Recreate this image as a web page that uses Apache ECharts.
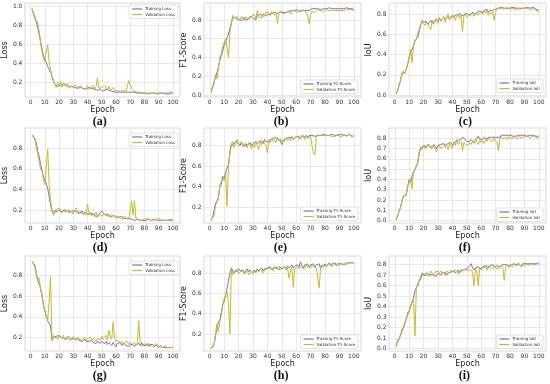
<!DOCTYPE html>
<html><head><meta charset="utf-8">
<script src="https://cdn.jsdelivr.net/npm/echarts@6/dist/echarts.min.js"></script>
<style>html,body{margin:0;padding:0;background:#fff}#c{width:550px;height:384px}</style>
</head><body><div id="c"></div>
<script>
const epochs = Array.from({length:100},(_, i)=>i+1);
const xTicks = [0,10,20,30,40,50,60,70,80,90,100];
const ticksLossA = [0.2,0.4,0.6,0.8,1.0];
const ticksF1B = [0.0,0.2,0.4,0.6,0.8];
const ticksIoUC = [0.0,0.2,0.4,0.6,0.8];
const ticksLossD = [0.2,0.4,0.6,0.8];
const ticksF1E = [0.2,0.4,0.6,0.8];
const ticksIoUF = [0.0,0.1,0.2,0.3,0.4,0.5,0.6,0.7,0.8];
const ticksLossG = [0.2,0.4,0.6,0.8];
const ticksF1H = [0.2,0.4,0.6,0.8];
const ticksIoUI = [0.0,0.1,0.2,0.3,0.4,0.5,0.6,0.7,0.8];

const trainLossA = [0.97,0.93,0.89,0.84,0.78,0.71,0.63,0.56,0.49,0.44, 0.41,0.37,0.35,0.31,0.26,0.22,0.19,0.17,0.16,0.18, 0.17,0.16,0.19,0.17,0.18,0.16,0.15,0.17,0.16,0.18, 0.15,0.17,0.14,0.16,0.15,0.13,0.14,0.15,0.13,0.14, 0.15,0.13,0.14,0.12,0.13,0.14,0.12,0.11,0.13,0.12, 0.11,0.12,0.13,0.11,0.12,0.10,0.11,0.12,0.10,0.11, 0.10,0.11,0.10,0.12,0.10,0.11,0.10,0.09,0.10,0.10, 0.10,0.09,0.10,0.09,0.09,0.10,0.09,0.09,0.09,0.08, 0.09,0.09,0.08,0.09,0.09,0.08,0.09,0.09,0.08,0.09, 0.09,0.08,0.09,0.09,0.08,0.09,0.08,0.09,0.09,0.09];
const valLossA = [0.99,0.91,0.87,0.85,0.83,0.74,0.62,0.53,0.46,0.42, 0.52,0.60,0.42,0.34,0.27,0.23,0.18,0.15,0.20,0.16, 0.21,0.15,0.18,0.20,0.16,0.19,0.14,0.17,0.19,0.15, 0.18,0.20,0.15,0.13,0.17,0.14,0.16,0.13,0.15,0.17, 0.13,0.15,0.14,0.17,0.13,0.16,0.25,0.14,0.12,0.15, 0.13,0.17,0.15,0.13,0.16,0.12,0.14,0.15,0.11,0.13, 0.12,0.14,0.11,0.13,0.12,0.14,0.11,0.13,0.22,0.24, 0.14,0.12,0.11,0.12,0.10,0.11,0.10,0.10,0.09,0.10, 0.09,0.10,0.09,0.08,0.09,0.10,0.09,0.10,0.09,0.10, 0.09,0.10,0.09,0.10,0.09,0.09,0.10,0.09,0.10,0.10];

const trainF1B = [0.05,0.09,0.14,0.19,0.24,0.30,0.37,0.42,0.47,0.53, 0.57,0.61,0.65,0.71,0.77,0.83,0.84,0.82,0.83,0.80, 0.82,0.80,0.81,0.83,0.80,0.82,0.81,0.84,0.83,0.82, 0.84,0.80,0.85,0.84,0.86,0.85,0.84,0.86,0.85,0.87, 0.86,0.85,0.87,0.86,0.88,0.86,0.87,0.86,0.88,0.89, 0.88,0.89,0.88,0.90,0.89,0.88,0.90,0.89,0.90,0.89, 0.91,0.90,0.89,0.91,0.90,0.91,0.90,0.91,0.90,0.91, 0.92,0.91,0.92,0.91,0.92,0.92,0.91,0.92,0.92,0.92, 0.92,0.92,0.93,0.92,0.92,0.93,0.92,0.93,0.92,0.93, 0.92,0.93,0.92,0.92,0.93,0.92,0.92,0.93,0.92,0.91];
const valF1B = [0.02,0.08,0.12,0.22,0.17,0.28,0.40,0.44,0.52,0.56, 0.60,0.50,0.40,0.66,0.76,0.85,0.83,0.81,0.84,0.86, 0.80,0.84,0.82,0.79,0.83,0.85,0.81,0.80,0.84,0.82, 0.86,0.81,0.90,0.83,0.85,0.82,0.87,0.84,0.88,0.86, 0.88,0.84,0.89,0.87,0.85,0.88,0.76,0.87,0.90,0.88, 0.86,0.85,0.88,0.87,0.90,0.86,0.89,0.87,0.91,0.88, 0.90,0.89,0.87,0.91,0.89,0.90,0.88,0.84,0.76,0.85, 0.89,0.90,0.88,0.90,0.91,0.89,0.90,0.91,0.89,0.90, 0.91,0.89,0.90,0.91,0.90,0.92,0.90,0.91,0.90,0.91, 0.90,0.91,0.90,0.91,0.91,0.90,0.91,0.90,0.91,0.90];

const trainIoUC = [0.01,0.05,0.10,0.14,0.22,0.23,0.22,0.25,0.31,0.37, 0.42,0.45,0.49,0.54,0.55,0.57,0.64,0.69,0.74,0.72, 0.71,0.73,0.70,0.72,0.74,0.71,0.73,0.72,0.75,0.73, 0.76,0.74,0.75,0.77,0.75,0.76,0.78,0.76,0.77,0.79, 0.77,0.78,0.80,0.78,0.81,0.79,0.80,0.79,0.81,0.80, 0.80,0.81,0.80,0.82,0.81,0.80,0.82,0.81,0.83,0.84, 0.82,0.84,0.83,0.85,0.82,0.84,0.83,0.84,0.83,0.85, 0.86,0.86,0.86,0.87,0.86,0.86,0.87,0.86,0.86,0.86, 0.86,0.87,0.86,0.86,0.87,0.86,0.86,0.86,0.87,0.86, 0.86,0.87,0.86,0.86,0.86,0.87,0.86,0.85,0.85,0.84];
const valIoUC = [0.01,0.04,0.09,0.15,0.20,0.24,0.21,0.26,0.30,0.38, 0.45,0.32,0.48,0.53,0.56,0.55,0.66,0.70,0.73,0.71, 0.69,0.72,0.70,0.68,0.65,0.74,0.70,0.72,0.76,0.71, 0.77,0.73,0.75,0.78,0.72,0.77,0.80,0.74,0.78,0.76, 0.79,0.74,0.78,0.80,0.76,0.79,0.63,0.78,0.80,0.77, 0.80,0.78,0.79,0.81,0.78,0.80,0.82,0.79,0.81,0.83, 0.80,0.83,0.81,0.84,0.79,0.82,0.80,0.83,0.74,0.82, 0.86,0.85,0.86,0.86,0.85,0.86,0.86,0.85,0.86,0.85, 0.85,0.86,0.86,0.84,0.86,0.86,0.85,0.86,0.86,0.85, 0.86,0.85,0.86,0.86,0.84,0.86,0.85,0.84,0.85,0.82];

const trainLossD = [0.93,0.91,0.89,0.85,0.77,0.72,0.65,0.58,0.53,0.49, 0.46,0.41,0.33,0.25,0.19,0.17,0.20,0.18,0.19,0.20, 0.19,0.18,0.20,0.19,0.18,0.20,0.19,0.18,0.17,0.19, 0.18,0.19,0.17,0.18,0.17,0.19,0.16,0.18,0.17,0.16, 0.17,0.16,0.15,0.17,0.14,0.15,0.14,0.16,0.15,0.19, 0.17,0.16,0.15,0.14,0.15,0.14,0.13,0.15,0.14,0.13, 0.14,0.13,0.12,0.14,0.12,0.13,0.12,0.11,0.12,0.12, 0.11,0.11,0.10,0.10,0.11,0.10,0.10,0.10,0.10,0.10, 0.10,0.10,0.11,0.10,0.10,0.10,0.11,0.10,0.10,0.10, 0.10,0.10,0.10,0.10,0.10,0.11,0.10,0.10,0.10,0.10];
const valLossD = [0.92,0.91,0.90,0.80,0.74,0.73,0.60,0.58,0.50,0.45, 0.62,0.79,0.45,0.30,0.20,0.15,0.17,0.16,0.22,0.23, 0.21,0.17,0.19,0.21,0.18,0.20,0.17,0.20,0.18,0.16, 0.20,0.22,0.23,0.17,0.19,0.18,0.16,0.17,0.15,0.26, 0.16,0.18,0.14,0.17,0.15,0.18,0.13,0.14,0.16,0.14, 0.15,0.16,0.14,0.17,0.13,0.16,0.14,0.13,0.15,0.12, 0.14,0.15,0.12,0.13,0.11,0.14,0.12,0.13,0.11,0.12, 0.29,0.15,0.29,0.12,0.11,0.10,0.11,0.10,0.10,0.11, 0.10,0.12,0.11,0.10,0.11,0.10,0.10,0.11,0.10,0.12, 0.11,0.10,0.11,0.10,0.11,0.10,0.10,0.11,0.10,0.11];

const trainF1E = [0.08,0.10,0.11,0.24,0.26,0.30,0.40,0.42,0.50,0.48, 0.54,0.58,0.62,0.74,0.82,0.80,0.79,0.84,0.85,0.82, 0.80,0.83,0.81,0.79,0.82,0.80,0.81,0.83,0.80,0.82, 0.81,0.84,0.82,0.83,0.85,0.84,0.82,0.86,0.84,0.85, 0.84,0.86,0.85,0.87,0.86,0.88,0.86,0.87,0.85,0.81, 0.85,0.86,0.87,0.86,0.88,0.87,0.88,0.86,0.87,0.89, 0.88,0.89,0.87,0.90,0.88,0.89,0.90,0.88,0.90,0.89, 0.90,0.91,0.89,0.90,0.90,0.91,0.90,0.90,0.91,0.90, 0.90,0.91,0.90,0.90,0.91,0.90,0.90,0.91,0.90,0.90, 0.91,0.90,0.90,0.91,0.90,0.90,0.91,0.90,0.89,0.90];
const valF1E = [0.07,0.10,0.12,0.22,0.25,0.28,0.42,0.41,0.48,0.46, 0.52,0.21,0.60,0.72,0.80,0.84,0.78,0.82,0.86,0.80, 0.81,0.84,0.79,0.82,0.80,0.78,0.83,0.81,0.77,0.82, 0.78,0.83,0.80,0.76,0.84,0.81,0.85,0.83,0.80,0.73, 0.85,0.83,0.87,0.84,0.86,0.83,0.88,0.85,0.87,0.84, 0.86,0.84,0.88,0.85,0.87,0.85,0.89,0.86,0.88,0.87, 0.89,0.86,0.88,0.87,0.90,0.86,0.89,0.87,0.88,0.89, 0.80,0.73,0.71,0.88,0.90,0.89,0.90,0.89,0.90,0.89, 0.90,0.89,0.90,0.91,0.89,0.90,0.89,0.90,0.91,0.89, 0.90,0.89,0.91,0.90,0.89,0.90,0.91,0.89,0.90,0.89];

const trainIoUF = [0.01,0.05,0.09,0.13,0.19,0.24,0.23,0.25,0.34,0.40, 0.37,0.44,0.45,0.50,0.53,0.57,0.67,0.70,0.72,0.71, 0.73,0.71,0.74,0.72,0.73,0.71,0.74,0.72,0.70,0.73, 0.72,0.74,0.73,0.75,0.73,0.72,0.75,0.74,0.76,0.73, 0.75,0.77,0.76,0.78,0.77,0.79,0.81,0.82,0.79,0.77, 0.78,0.77,0.79,0.78,0.76,0.78,0.80,0.82,0.79,0.80, 0.79,0.81,0.80,0.79,0.81,0.80,0.81,0.80,0.81,0.82, 0.81,0.82,0.81,0.83,0.82,0.83,0.82,0.83,0.82,0.83, 0.83,0.82,0.83,0.82,0.83,0.83,0.82,0.83,0.82,0.83, 0.83,0.82,0.83,0.83,0.82,0.83,0.83,0.82,0.83,0.82];
const valIoUF = [0.01,0.04,0.10,0.12,0.20,0.23,0.24,0.26,0.33,0.38, 0.40,0.31,0.46,0.49,0.54,0.56,0.64,0.72,0.69,0.73, 0.70,0.72,0.71,0.74,0.70,0.73,0.72,0.70,0.67,0.71, 0.73,0.70,0.72,0.74,0.71,0.73,0.69,0.75,0.72,0.70, 0.76,0.73,0.78,0.74,0.75,0.77,0.68,0.76,0.74,0.75, 0.73,0.76,0.74,0.77,0.75,0.79,0.76,0.74,0.78,0.76, 0.78,0.75,0.79,0.77,0.80,0.78,0.79,0.77,0.80,0.79, 0.76,0.68,0.80,0.82,0.79,0.80,0.81,0.79,0.82,0.80, 0.81,0.80,0.82,0.81,0.79,0.82,0.81,0.80,0.82,0.81, 0.82,0.81,0.82,0.80,0.82,0.81,0.82,0.81,0.80,0.81];

const trainLossG = [0.94,0.92,0.90,0.83,0.75,0.72,0.68,0.60,0.51,0.46, 0.41,0.36,0.35,0.31,0.17,0.20,0.19,0.21,0.20,0.22, 0.20,0.21,0.19,0.20,0.18,0.20,0.19,0.17,0.19,0.18, 0.18,0.17,0.19,0.17,0.18,0.16,0.17,0.18,0.16,0.17, 0.16,0.15,0.17,0.15,0.16,0.14,0.16,0.15,0.14,0.16, 0.15,0.14,0.16,0.13,0.15,0.14,0.12,0.15,0.13,0.11, 0.14,0.13,0.15,0.12,0.13,0.14,0.12,0.13,0.11,0.13, 0.12,0.13,0.11,0.13,0.12,0.14,0.12,0.15,0.12,0.13, 0.12,0.14,0.11,0.13,0.12,0.13,0.11,0.12,0.13,0.10, 0.12,0.11,0.10,0.11,0.10,0.11,0.10,0.11,0.10,0.11];
const valLossG = [0.94,0.93,0.88,0.80,0.76,0.78,0.65,0.62,0.52,0.45, 0.41,0.37,0.55,0.79,0.18,0.22,0.19,0.21,0.18,0.22, 0.21,0.19,0.22,0.18,0.20,0.19,0.21,0.20,0.18,0.21, 0.19,0.17,0.20,0.18,0.19,0.17,0.18,0.20,0.17,0.19, 0.18,0.20,0.17,0.19,0.18,0.16,0.19,0.20,0.17,0.21, 0.18,0.20,0.22,0.17,0.27,0.20,0.18,0.35,0.19,0.16, 0.15,0.17,0.14,0.16,0.13,0.15,0.14,0.16,0.13,0.15, 0.14,0.13,0.15,0.12,0.14,0.36,0.14,0.13,0.12,0.14, 0.13,0.12,0.14,0.12,0.13,0.11,0.12,0.14,0.11,0.12, 0.11,0.12,0.10,0.11,0.12,0.10,0.11,0.10,0.11,0.10];

const trainF1H = [0.06,0.08,0.10,0.18,0.26,0.32,0.34,0.41,0.49,0.52, 0.58,0.65,0.66,0.80,0.85,0.82,0.80,0.83,0.81,0.84, 0.82,0.81,0.83,0.80,0.82,0.84,0.81,0.83,0.82,0.80, 0.83,0.81,0.84,0.82,0.83,0.85,0.82,0.84,0.83,0.85, 0.84,0.86,0.83,0.85,0.84,0.86,0.85,0.83,0.86,0.84, 0.85,0.86,0.84,0.87,0.85,0.86,0.88,0.85,0.87,0.86, 0.88,0.86,0.91,0.87,0.85,0.88,0.87,0.89,0.86,0.88, 0.87,0.89,0.86,0.88,0.87,0.89,0.84,0.88,0.86,0.89, 0.87,0.88,0.90,0.87,0.89,0.88,0.90,0.87,0.89,0.88, 0.89,0.90,0.88,0.89,0.90,0.89,0.90,0.89,0.90,0.90];
const valF1H = [0.05,0.07,0.10,0.20,0.30,0.22,0.32,0.38,0.48,0.55, 0.58,0.62,0.50,0.20,0.84,0.78,0.81,0.80,0.83,0.79, 0.81,0.80,0.82,0.79,0.81,0.83,0.78,0.80,0.82,0.79, 0.82,0.80,0.83,0.81,0.84,0.82,0.80,0.83,0.82,0.84, 0.83,0.85,0.84,0.82,0.86,0.84,0.85,0.87,0.83,0.85, 0.84,0.86,0.83,0.85,0.75,0.82,0.86,0.66,0.84,0.85, 0.86,0.84,0.87,0.85,0.86,0.84,0.88,0.86,0.87,0.85, 0.88,0.86,0.87,0.85,0.86,0.65,0.87,0.86,0.88,0.87, 0.86,0.88,0.87,0.89,0.86,0.88,0.87,0.89,0.88,0.87, 0.89,0.88,0.89,0.90,0.88,0.89,0.90,0.89,0.90,0.89];

const trainIoUI = [0.02,0.08,0.10,0.12,0.18,0.20,0.25,0.28,0.34,0.36, 0.41,0.45,0.48,0.55,0.58,0.60,0.65,0.68,0.72,0.70, 0.71,0.70,0.72,0.69,0.71,0.72,0.70,0.71,0.69,0.72, 0.71,0.70,0.72,0.71,0.73,0.70,0.72,0.71,0.73,0.72, 0.74,0.72,0.73,0.75,0.72,0.74,0.73,0.75,0.74,0.76, 0.77,0.79,0.81,0.77,0.75,0.77,0.76,0.78,0.77,0.76, 0.78,0.77,0.79,0.78,0.77,0.79,0.78,0.80,0.78,0.79, 0.79,0.80,0.78,0.79,0.80,0.79,0.80,0.81,0.79,0.80, 0.80,0.79,0.81,0.80,0.79,0.81,0.80,0.78,0.81,0.80, 0.81,0.80,0.81,0.82,0.81,0.80,0.81,0.82,0.81,0.81];
const valIoUI = [0.02,0.06,0.09,0.14,0.16,0.19,0.23,0.29,0.32,0.35, 0.40,0.44,0.47,0.12,0.58,0.62,0.64,0.66,0.69,0.72, 0.70,0.73,0.71,0.69,0.74,0.72,0.70,0.73,0.72,0.74, 0.72,0.74,0.71,0.73,0.70,0.74,0.73,0.72,0.75,0.73, 0.72,0.75,0.73,0.71,0.74,0.76,0.74,0.73,0.76,0.75, 0.74,0.76,0.75,0.73,0.60,0.76,0.74,0.60,0.77,0.75, 0.77,0.76,0.78,0.75,0.79,0.77,0.78,0.76,0.79,0.77, 0.78,0.76,0.79,0.78,0.77,0.65,0.78,0.80,0.77,0.79, 0.80,0.78,0.81,0.79,0.80,0.82,0.79,0.80,0.81,0.79, 0.80,0.81,0.79,0.81,0.82,0.80,0.81,0.80,0.82,0.80];

const names = {
  loss: ['Training Loss','Validation Loss'],
  f1: ['Training F1-Score','Validation F1-Score'],
  iou: ['Training IoU','Validation IoU']
};
const yNames = {loss:'Loss', f1:'F1-Score', iou:'IoU'};
const captions = ['(a)','(b)','(c)','(d)','(e)','(f)','(g)','(h)','(i)'];

const panels = [
  {kind:'loss', tr:trainLossA, va:valLossA, ticks:ticksLossA, yMin:0.049, yMax:1.039, legTop:5},
  {kind:'f1',   tr:trainF1B,   va:valF1B,   ticks:ticksF1B,   yMin:-0.021, yMax:0.981, legTop:80},
  {kind:'iou',  tr:trainIoUC,  va:valIoUC,  ticks:ticksIoUC,  yMin:-0.02, yMax:0.912, legTop:79},
  {kind:'loss', tr:trainLossD, va:valLossD, ticks:ticksLossD, yMin:0.074, yMax:0.997, legTop:133},
  {kind:'f1',   tr:trainF1E,   va:valF1E,   ticks:ticksF1E,   yMin:0.047, yMax:0.972, legTop:207},
  {kind:'iou',  tr:trainIoUF,  va:valIoUF,  ticks:ticksIoUF,  yMin:-0.022, yMax:0.900, legTop:208},
  {kind:'loss', tr:trainLossG, va:valLossG, ticks:ticksLossG, yMin:0.067, yMax:0.992, legTop:261},
  {kind:'f1',   tr:trainF1H,   va:valF1H,   ticks:ticksF1H,   yMin:0.033, yMax:0.967, legTop:335},
  {kind:'iou',  tr:trainIoUI,  va:valIoUI,  ticks:ticksIoUI,  yMin:-0.022, yMax:0.883, legTop:335}
];

const colLeft = [23, 204, 389];
const colW = 157;
const rowTop = [3, 128, 256];
const rowH = [94, 95, 95];
const legRight = [372, 192, 7];
const TRAIN_C = '#7474c8';
const VAL_C = '#cdb82a';
const FONT = 'DejaVu Sans';

const grid = [], xAxis = [], yAxis = [], series = [], legend = [], graphic = [];
panels.forEach((p, i) => {
  const c = i % 3, r = Math.floor(i / 3);
  grid.push({left: colLeft[c], top: rowTop[r], width: colW, height: rowH[r], show: true,
    borderColor: '#cfcfcf', borderWidth: 0.8, backgroundColor: 'transparent'});
  xAxis.push({type: 'value', gridIndex: i, min: -4, max: 105,
    name: 'Epoch', nameLocation: 'middle', nameGap: 6.5,
    nameTextStyle: {fontFamily: FONT, fontSize: 8, color: '#222'},
    axisLine: {show: false},
    axisTick: {show: false, customValues: xTicks},
    axisLabel: {customValues: xTicks, fontFamily: FONT, fontSize: 6, color: '#333', margin: 2},
    splitLine: {show: true, lineStyle: {color: '#e3e3e3', width: 0.8}}});
  yAxis.push({type: 'value', gridIndex: i, min: p.yMin, max: p.yMax,
    name: yNames[p.kind], nameLocation: 'middle', nameGap: 8.5,
    nameTextStyle: {fontFamily: FONT, fontSize: 8, color: '#222'},
    axisLine: {show: false},
    axisTick: {show: false, customValues: p.ticks},
    axisLabel: {customValues: p.ticks, fontFamily: FONT, fontSize: 6, color: '#333', margin: 2.5,
      formatter: v => (Math.round(v * 10) / 10).toFixed(1)},
    splitLine: {show: true, lineStyle: {color: '#e3e3e3', width: 0.8}}});
  const nm = names[p.kind];
  series.push({type: 'line', name: nm[0], xAxisIndex: i, yAxisIndex: i, showSymbol: false,
    data: epochs.map((e, k) => [e, p.tr[k]]), color: TRAIN_C, lineStyle: {width: 1, color: TRAIN_C}, z: 2});
  series.push({type: 'line', name: nm[1], xAxisIndex: i, yAxisIndex: i, showSymbol: false,
    data: epochs.map((e, k) => [e, p.va[k]]), color: VAL_C, lineStyle: {width: 1, color: VAL_C}, z: 3});
  legend.push({data: nm, orient: 'vertical', right: legRight[c], top: p.legTop,
    icon: 'rect', itemWidth: 10, itemHeight: 1.2, itemGap: 1.5,
    padding: [2, 3, 2, 3], backgroundColor: 'rgba(255,255,255,0.85)', borderColor: '#d0d0d0',
    borderWidth: 0.6, borderRadius: 1.5,
    textStyle: {fontFamily: FONT, fontSize: 4, color: '#333', padding: [0, 0, 0, -2]}});
  graphic.push({type: 'text', left: colLeft[c] + colW * (54 / 109) - 8, top: rowTop[r] + rowH[r] + 18.5,
    style: {text: captions[i], font: 'bold 12px "Liberation Serif"', fill: '#111'}});
});

const chart = echarts.init(document.getElementById('c'), null, {renderer: 'canvas'});
chart.setOption({animation: false, backgroundColor: '#fff', grid, xAxis, yAxis, series, legend, graphic});
</script></body></html>
